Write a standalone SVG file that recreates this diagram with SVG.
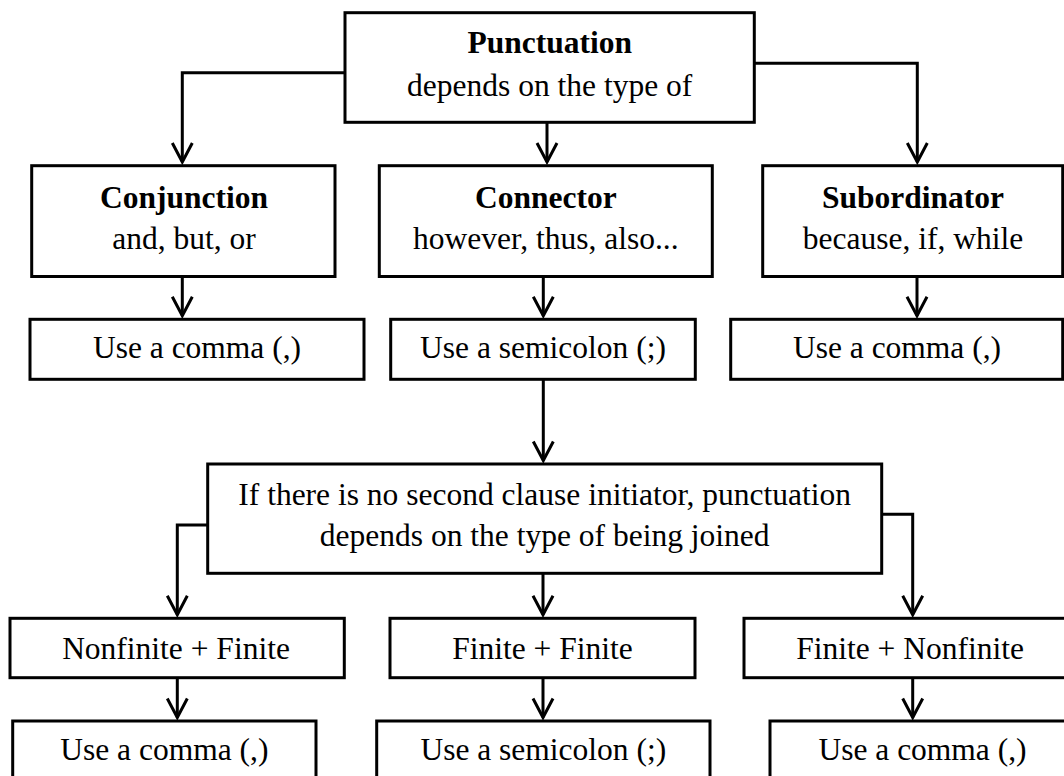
<svg xmlns="http://www.w3.org/2000/svg" width="1064" height="776" viewBox="0 0 1064 776">
<style>
.box{fill:#fff;stroke:#000;stroke-width:3}
.t{font-family:"Liberation Serif","Times New Roman",serif;font-size:31.5px;fill:#000;text-anchor:middle}
.b{font-weight:bold}
.c{fill:none;stroke:#000;stroke-width:3;marker-end:url(#ah)}
</style>
<defs>
<marker id="ah" viewBox="-22 -12 26 24" markerWidth="26" markerHeight="24" refX="0" refY="0" orient="auto" markerUnits="userSpaceOnUse">
<path d="M-19,-10 L0,0 L-19,10" fill="none" stroke="#000" stroke-width="3"/>
</marker>
</defs>
<rect width="1064" height="776" fill="#fff"/>
<g id="connectors">
<path class="c" d="M345,72.7 H182.3 V162"/>
<path class="c" d="M547,122.3 V162"/>
<path class="c" d="M754.3,63.3 H917.3 V162"/>
<path class="c" d="M182.3,276.5 V315.8"/>
<path class="c" d="M543.3,276.5 V315.8"/>
<path class="c" d="M917,276.5 V315.8"/>
<path class="c" d="M543.3,379.3 V460.5"/>
<path class="c" d="M207.7,525 H177.3 V614.8"/>
<path class="c" d="M543,573.3 V614.8"/>
<path class="c" d="M881.7,514.3 H912.7 V614.8"/>
<path class="c" d="M177.3,677.7 V717.5"/>
<path class="c" d="M543,677.7 V717.5"/>
<path class="c" d="M912.7,677.7 V717.5"/>
</g>
<g id="punctuation">
<rect class="box" x="345" y="12.7" width="409.3" height="109.6"/>
<text class="t b" x="549.7" y="53.3">Punctuation</text>
<text class="t" x="549.7" y="96">depends on the type of</text>
</g>
<g id="conjunction">
<rect class="box" x="31.7" y="165.7" width="303.3" height="110.8"/>
<text class="t b" x="184" y="208.3">Conjunction</text>
<text class="t" x="184" y="249.3">and, but, or</text>
</g>
<g id="connector">
<rect class="box" x="379.3" y="165.7" width="333" height="110.8"/>
<text class="t b" x="545.8" y="208.3">Connector</text>
<text class="t" x="545.8" y="249.3">however, thus, also...</text>
</g>
<g id="subordinator">
<rect class="box" x="762.7" y="165.7" width="300" height="110.8"/>
<text class="t b" x="913" y="208.3">Subordinator</text>
<text class="t" x="913" y="249.3">because, if, while</text>
</g>
<g id="comma1">
<rect class="box" x="30" y="319.3" width="334" height="60"/>
<text class="t" x="197" y="358.3">Use a comma (,)</text>
</g>
<g id="semicolon1">
<rect class="box" x="390.7" y="319.3" width="304.6" height="60"/>
<text class="t" x="543" y="358.3">Use a semicolon (;)</text>
</g>
<g id="comma2">
<rect class="box" x="730.7" y="319.3" width="332" height="60"/>
<text class="t" x="897" y="358.3">Use a comma (,)</text>
</g>
<g id="noinitiator">
<rect class="box" x="207.7" y="464" width="674" height="109.3"/>
<text class="t" x="544.7" y="505">If there is no second clause initiator, punctuation</text>
<text class="t" x="544.7" y="545.7">depends on the type of being joined</text>
</g>
<g id="nonfinite-finite">
<rect class="box" x="10" y="618.3" width="334.3" height="59.4"/>
<text class="t" x="176" y="658.7">Nonfinite + Finite</text>
</g>
<g id="finite-finite">
<rect class="box" x="390" y="618.3" width="305" height="59.4"/>
<text class="t" x="542.5" y="658.7">Finite + Finite</text>
</g>
<g id="finite-nonfinite">
<rect class="box" x="744" y="618.3" width="332" height="59.4"/>
<text class="t" x="910" y="658.7">Finite + Nonfinite</text>
</g>
<g id="comma3">
<rect class="box" x="12.7" y="721" width="303.3" height="60"/>
<text class="t" x="164.3" y="760.3">Use a comma (,)</text>
</g>
<g id="semicolon2">
<rect class="box" x="376.7" y="721" width="333.3" height="60"/>
<text class="t" x="543.3" y="760.3">Use a semicolon (;)</text>
</g>
<g id="comma4">
<rect class="box" x="770" y="721" width="305" height="60"/>
<text class="t" x="922.5" y="760.3">Use a comma (,)</text>
</g>
</svg>
